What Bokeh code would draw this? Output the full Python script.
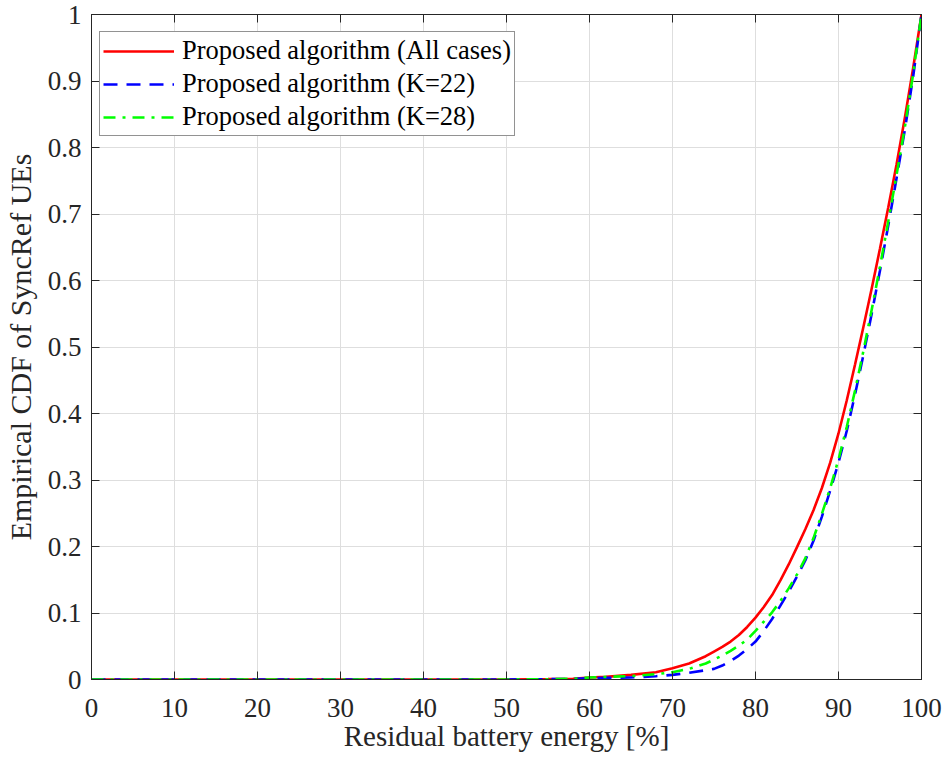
from bokeh.plotting import figure
from bokeh.models import (LinearAxis, FixedTicker, CustomJSTickFormatter, Legend,
                          LegendItem, Range1d, ColumnDataSource)
from bokeh.embed import file_html
from bokeh.resources import INLINE

# ---- data ----
energy = [0, 50, 55, 58, 60, 62, 65, 68, 70, 72, 74, 75, 76, 77, 78, 79, 80, 81,
          82, 83, 84, 85, 86, 87, 88, 89, 90, 91, 92, 93, 94, 95, 96, 97, 98, 99, 100]
cdf_all = [0, 0, 0.0005, 0.001, 0.003, 0.004, 0.007, 0.011, 0.017, 0.024, 0.035, 0.042,
           0.049, 0.057, 0.067, 0.079, 0.093, 0.109, 0.127, 0.149, 0.173, 0.199, 0.226,
           0.255, 0.288, 0.326, 0.37, 0.42, 0.474, 0.53, 0.588, 0.648, 0.71, 0.775,
           0.845, 0.92, 1.0]
cdf_k22 = [0, 0, 0.0005, 0.001, 0.002, 0.0025, 0.003, 0.005, 0.007, 0.01, 0.014, 0.016,
           0.021, 0.028, 0.036, 0.046, 0.057, 0.073, 0.091, 0.111, 0.132, 0.155, 0.179,
           0.209, 0.245, 0.284, 0.326, 0.374, 0.429, 0.488, 0.55, 0.615, 0.683, 0.754,
           0.827, 0.907, 1.0]
cdf_k28 = [0, 0, 0.0005, 0.001, 0.003, 0.004, 0.005, 0.008, 0.011, 0.016, 0.024, 0.03,
           0.036, 0.043, 0.051, 0.06, 0.073, 0.087, 0.101, 0.118, 0.137, 0.158, 0.182,
           0.213, 0.249, 0.288, 0.331, 0.38, 0.435, 0.494, 0.556, 0.621, 0.689, 0.759,
           0.831, 0.911, 1.0]
labels = ["Proposed algorithm (All cases)", "Proposed algorithm (K=22)",
          "Proposed algorithm (K=28)"]
x_ticks = list(range(0, 101, 10))
y_ticks = [i / 10 for i in range(11)]

FONT = "Liberation Serif"
AX = "#262626"

src = ColumnDataSource(dict(x=energy, a=cdf_all, b=cdf_k22, c=cdf_k28))

p = figure(width=948, height=761, output_backend="svg", toolbar_location=None,
           x_range=Range1d(0, 100), y_range=Range1d(0, 1),
           min_border_left=90, min_border_right=27, min_border_top=14,
           min_border_bottom=82)
p.background_fill_color = "white"
p.border_fill_color = "white"
p.outline_line_color = AX
p.outline_line_width = 1

yfmt = CustomJSTickFormatter(code="return String(Math.round(tick*10)/10);")

for ax in (p.xaxis[0], p.yaxis[0]):
    ax.axis_line_color = AX
    ax.major_tick_line_color = AX
    ax.major_tick_in = 8
    ax.major_tick_out = 0
    ax.minor_tick_line_color = None
    ax.major_label_text_font = FONT
    ax.major_label_text_font_size = "27px"
    ax.major_label_text_color = AX
    ax.axis_label_text_font = FONT
    ax.axis_label_text_font_style = "normal"
    ax.axis_label_text_color = AX

p.xaxis.axis_label_text_font_size = "29px"
p.yaxis.axis_label_text_font_size = "30px"
p.xaxis.ticker = FixedTicker(ticks=x_ticks)
p.yaxis.ticker = FixedTicker(ticks=y_ticks)
p.yaxis.formatter = yfmt
p.xaxis.axis_label = "Residual battery energy [%]"
p.yaxis.axis_label = "Empirical CDF of SyncRef UEs"
p.xaxis.major_label_standoff = 19
p.yaxis.major_label_standoff = 10
p.xaxis.axis_label_standoff = 0
p.yaxis.axis_label_standoff = 8

for loc, tick_list in (("above", x_ticks), ("right", y_ticks)):
    ax2 = LinearAxis(ticker=FixedTicker(ticks=tick_list),
                     major_label_text_font_size="0px", major_label_standoff=0,
                     axis_line_color=AX, major_tick_line_color=AX,
                     major_tick_in=8, major_tick_out=0, minor_tick_line_color=None)
    p.add_layout(ax2, loc)

p.xgrid.ticker = FixedTicker(ticks=x_ticks)
p.ygrid.ticker = FixedTicker(ticks=y_ticks)
p.grid.grid_line_color = "#dedede"
p.grid.grid_line_width = 1

r1 = p.line("x", "a", source=src, line_color="#ff0000", line_width=2.6)
r2 = p.line("x", "b", source=src, line_color="#0000ff", line_width=2.6,
            line_dash="14 9")
r3 = p.line("x", "c", source=src, line_color="#00ff00", line_width=2.6,
            line_dash="12 7 3 7")

legend = Legend(items=[LegendItem(label=labels[0], renderers=[r1]),
                       LegendItem(label=labels[1], renderers=[r2]),
                       LegendItem(label=labels[2], renderers=[r3])],
                location=(8, 543))
legend.label_text_font = FONT
legend.label_text_font_size = "26.5px"
legend.label_text_color = "black"
legend.border_line_color = AX
legend.border_line_width = 1
legend.background_fill_alpha = 1
legend.glyph_width = 71
legend.glyph_height = 26
legend.label_height = 26
legend.spacing = 2
legend.padding = 3
legend.label_standoff = 8
legend.margin = 0
p.add_layout(legend)

open("out.html", "w").write(file_html(p, INLINE))
